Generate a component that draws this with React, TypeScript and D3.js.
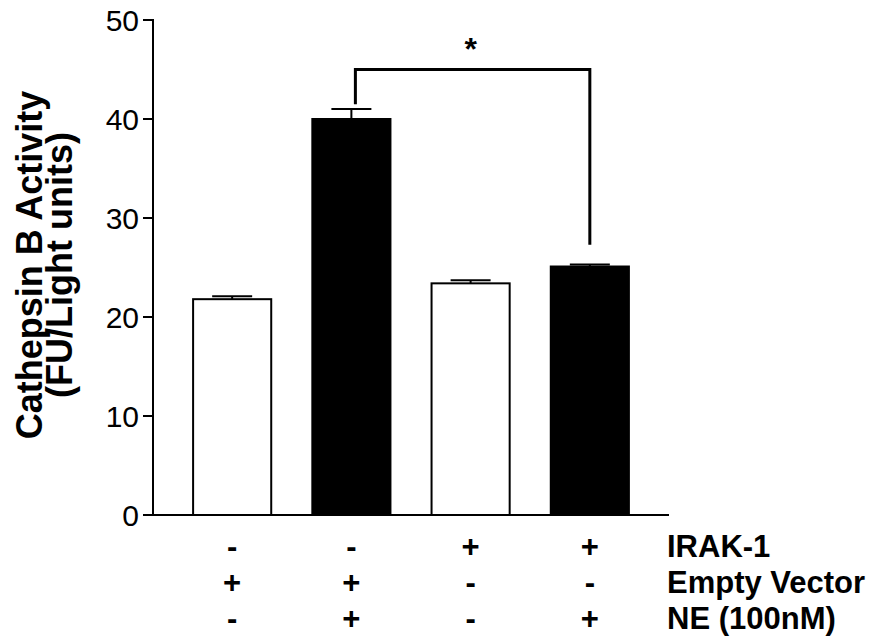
import React from "react";
import * as d3 from "d3";

const categories = ["A", "B", "C", "D"];
const means = [21.8, 40.0, 23.4, 25.1];
const sems = [0.3, 1.0, 0.3, 0.2];
const fills = ["#ffffff", "#000000", "#ffffff", "#000000"];
const yTicks = [0, 10, 20, 30, 40, 50];
const rowNames = ["IRAK-1", "Empty Vector", "NE (100nM)"];
const rowSigns = [
  ["-", "-", "+", "+"],
  ["+", "+", "-", "-"],
  ["-", "+", "-", "+"],
];
const bracketLevel = 45;
const bracketLeftEnd = 41.5;
const bracketRightEnd = 27.3;

const W = 880;
const H = 638;
const FONT = "'Liberation Sans', Arial, sans-serif";

export default function App() {
  const x = d3
    .scaleBand<string>()
    .domain(categories)
    .range([153, 669])
    .paddingInner(0.328)
    .paddingOuter(0.328);
  const y = d3.scaleLinear().domain([0, 50]).range([515, 20]);
  const bw = x.bandwidth();
  const cx = (c: string) => (x(c) as number) + bw / 2;
  const capW = 40;

  return (
    <svg width={W} height={H} style={{ display: "block", position: "absolute", left: 0, top: 0 }} fontFamily={FONT}>
      <rect width={W} height={H} fill="#fff" />
      {/* bars */}
      {categories.map((c, i) => (
        <g key={c}>
          <line x1={cx(c)} x2={cx(c)} y1={y(means[i])} y2={y(means[i] + sems[i])} stroke="#000" strokeWidth={2} />
          <line x1={cx(c) - capW / 2} x2={cx(c) + capW / 2} y1={y(means[i] + sems[i])} y2={y(means[i] + sems[i])} stroke="#000" strokeWidth={2} />
          <rect
            x={(x(c) as number) + 1}
            y={y(means[i])}
            width={bw - 2}
            height={y(0) - y(means[i])}
            fill={fills[i]}
            stroke="#000"
            strokeWidth={2}
          />
        </g>
      ))}
      {/* axes */}
      <line x1={153} x2={153} y1={y(50) - 1} y2={y(0) + 1} stroke="#000" strokeWidth={2} />
      <line x1={153} x2={669} y1={y(0)} y2={y(0)} stroke="#000" strokeWidth={2} />
      {yTicks.map((t) => (
        <g key={t}>
          <line x1={143} x2={153} y1={y(t)} y2={y(t)} stroke="#000" strokeWidth={2} />
          <text x={139} y={y(t)} dy="0.36em" textAnchor="end" fontSize={30}>
            {t}
          </text>
        </g>
      ))}
      {/* y title */}
      <g transform={`translate(0, 265) rotate(-90)`}>
        <text x={0} y={42} textAnchor="middle" fontSize={36} fontWeight="bold">
          Cathepsin B Activity
        </text>
        <text x={0} y={72} textAnchor="middle" fontSize={36} fontWeight="bold">
          (FU/Light units)
        </text>
      </g>
      {/* significance bracket */}
      <path
        d={`M${cx("B") + 4},${y(bracketLeftEnd)} V${y(bracketLevel)} H${cx("D")} V${y(bracketRightEnd)}`}
        fill="none"
        stroke="#000"
        strokeWidth={3}
      />
      <text x={(cx("B") + cx("D")) / 2} y={y(bracketLevel) - 10} textAnchor="middle" fontSize={32} fontWeight="bold">
        *
      </text>
      {/* condition table */}
      {rowNames.map((name, r) => (
        <g key={name}>
          {categories.map((c, i) => (
            <text key={c} x={cx(c)} y={546 + r * 36} dy="0.36em" textAnchor="middle" fontSize={31} fontWeight="bold">
              {rowSigns[r][i]}
            </text>
          ))}
          <text x={667} y={546 + r * 36} dy="0.36em" fontSize={31} fontWeight="bold">
            {name}
          </text>
        </g>
      ))}
    </svg>
  );
}
